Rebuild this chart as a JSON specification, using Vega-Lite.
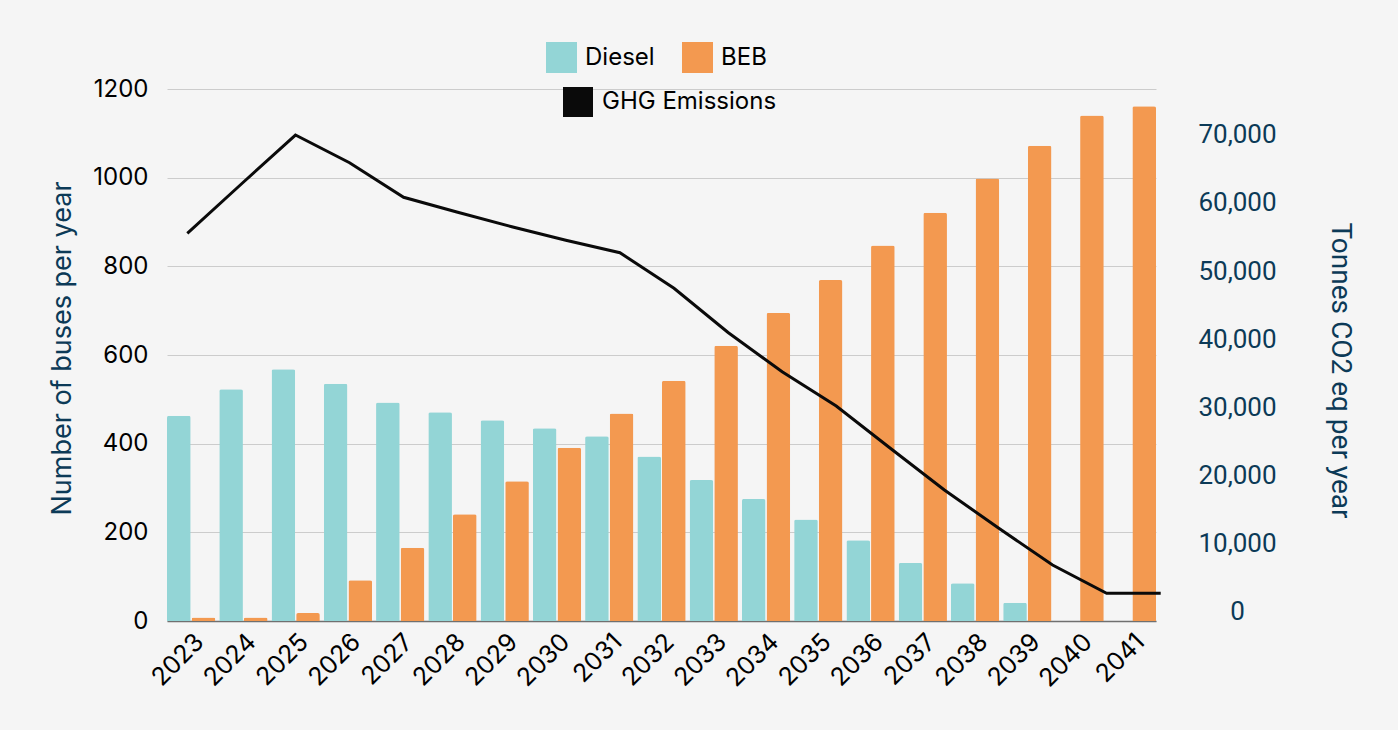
{
  "$schema": "https://vega.github.io/schema/vega-lite/v6.json",
  "width": 989,
  "height": 532,
  "autosize": {"type": "none"},
  "padding": {"left": 167, "top": 89, "right": 242, "bottom": 109},
  "background": "#f5f5f5",
  "config": {"font": "Inter", "view": {"stroke": null}},
  "datasets": {
    "buses": [
      {"year": "2023", "type": "Diesel", "buses": 463}, {"year": "2023", "type": "BEB", "buses": 8},
      {"year": "2024", "type": "Diesel", "buses": 523}, {"year": "2024", "type": "BEB", "buses": 8},
      {"year": "2025", "type": "Diesel", "buses": 568}, {"year": "2025", "type": "BEB", "buses": 18},
      {"year": "2026", "type": "Diesel", "buses": 535}, {"year": "2026", "type": "BEB", "buses": 92},
      {"year": "2027", "type": "Diesel", "buses": 493}, {"year": "2027", "type": "BEB", "buses": 165},
      {"year": "2028", "type": "Diesel", "buses": 471}, {"year": "2028", "type": "BEB", "buses": 241},
      {"year": "2029", "type": "Diesel", "buses": 453}, {"year": "2029", "type": "BEB", "buses": 315},
      {"year": "2030", "type": "Diesel", "buses": 435}, {"year": "2030", "type": "BEB", "buses": 391},
      {"year": "2031", "type": "Diesel", "buses": 417}, {"year": "2031", "type": "BEB", "buses": 468},
      {"year": "2032", "type": "Diesel", "buses": 371}, {"year": "2032", "type": "BEB", "buses": 542},
      {"year": "2033", "type": "Diesel", "buses": 318}, {"year": "2033", "type": "BEB", "buses": 621},
      {"year": "2034", "type": "Diesel", "buses": 275}, {"year": "2034", "type": "BEB", "buses": 695},
      {"year": "2035", "type": "Diesel", "buses": 229}, {"year": "2035", "type": "BEB", "buses": 769},
      {"year": "2036", "type": "Diesel", "buses": 182}, {"year": "2036", "type": "BEB", "buses": 847},
      {"year": "2037", "type": "Diesel", "buses": 131}, {"year": "2037", "type": "BEB", "buses": 921},
      {"year": "2038", "type": "Diesel", "buses": 85}, {"year": "2038", "type": "BEB", "buses": 998},
      {"year": "2039", "type": "Diesel", "buses": 41}, {"year": "2039", "type": "BEB", "buses": 1072},
      {"year": "2040", "type": "Diesel", "buses": 0}, {"year": "2040", "type": "BEB", "buses": 1140},
      {"year": "2041", "type": "Diesel", "buses": 0}, {"year": "2041", "type": "BEB", "buses": 1161}
    ],
    "ghg": [
      {"year": 2023, "ghg": 55540}, {"year": 2024, "ghg": 62770}, {"year": 2025, "ghg": 69950},
      {"year": 2026, "ghg": 65890}, {"year": 2027, "ghg": 60820}, {"year": 2028, "ghg": 58620},
      {"year": 2029, "ghg": 56500}, {"year": 2030, "ghg": 54510}, {"year": 2031, "ghg": 52690},
      {"year": 2032, "ghg": 47470}, {"year": 2033, "ghg": 40990}, {"year": 2034, "ghg": 35240},
      {"year": 2035, "ghg": 30210}, {"year": 2036, "ghg": 24010}, {"year": 2037, "ghg": 17890},
      {"year": 2038, "ghg": 12320}, {"year": 2039, "ghg": 6890}, {"year": 2040, "ghg": 2740},
      {"year": 2041, "ghg": 2740}
    ]
  },
  "layer": [
    {
      "data": {"name": "buses"},
      "mark": {"type": "bar", "cornerRadiusTopLeft": 2, "cornerRadiusTopRight": 2},
      "encoding": {
        "x": {
          "field": "year", "type": "nominal",
          "scale": {"paddingInner": 0.076, "paddingOuter": 0},
          "axis": {
            "title": null, "labelAngle": -45, "labelFontSize": 25, "labelColor": "#000000",
            "labelFont": "Inter", "ticks": false, "grid": false, "domain": true,
            "domainColor": "#707070", "domainWidth": 1.5, "labelPadding": 8, "labelOverlap": false
          }
        },
        "xOffset": {"field": "type", "sort": ["Diesel", "BEB"], "scale": {"paddingInner": 0.04}},
        "y": {
          "field": "buses", "type": "quantitative",
          "scale": {"domain": [0, 1200], "nice": false},
          "axis": {
            "title": "Number of buses per year", "values": [0, 200, 400, 600, 800, 1000, 1200],
            "labelExpr": "format(datum.value, 'd')",
            "grid": true, "gridColor": "#cccccc", "gridWidth": 1, "ticks": false, "domain": false,
            "labelFontSize": 24, "labelColor": "#000000", "labelPadding": 19, "labelFont": "Inter",
            "titleFont": "Inter", "titleFontSize": 27, "titleFontWeight": "normal", "titleColor": "#0c3a57",
            "titleX": -105, "titleY": 259, "titleBaseline": "middle", "titleAngle": -90
          }
        },
        "color": {
          "field": "type", "type": "nominal",
          "scale": {"domain": ["Diesel", "BEB"], "range": ["#93d5d6", "#f39950"]},
          "legend": {
            "title": null, "orient": "none", "legendX": 379, "legendY": -47, "direction": "horizontal",
            "symbolType": "square", "symbolSize": 961, "symbolStrokeWidth": 0, "labelFontSize": 24,
            "labelFont": "Inter", "labelColor": "#000000", "labelOffset": 8, "columnPadding": 27,
            "labelLimit": 400
          }
        }
      }
    },
    {
      "data": {"name": "ghg"},
      "mark": {"type": "line", "strokeWidth": 3},
      "encoding": {
        "x": {
          "field": "year", "type": "quantitative",
          "scale": {"domain": [2022.6246, 2040.9131], "nice": false, "zero": false},
          "axis": null
        },
        "y": {
          "field": "ghg", "type": "quantitative",
          "scale": {"domain": [-1320, 76700], "nice": false, "zero": false},
          "axis": {
            "orient": "right", "title": "Tonnes CO2 eq per year",
            "values": [0, 10000, 20000, 30000, 40000, 50000, 60000, 70000],
            "labelExpr": "format(datum.value, ',')",
            "grid": false, "ticks": false, "domain": false, "labelOverlap": false,
            "labelFont": "Roboto", "labelFontSize": 26, "labelColor": "#0c3a57",
            "labelAlign": "center", "labelPadding": 81,
            "titleFont": "Roboto", "titleFontSize": 28, "titleFontWeight": "normal", "titleColor": "#0c3a57",
            "titleX": 183, "titleY": 281, "titleBaseline": "middle", "titleAngle": 90
          }
        },
        "color": {
          "datum": "GHG Emissions",
          "scale": {"range": ["#0a0a0a"]},
          "legend": {
            "title": null, "orient": "none", "legendX": 396, "legendY": -2, "direction": "horizontal",
            "symbolType": "square", "symbolSize": 900, "symbolFillColor": "#0a0a0a", "symbolStrokeColor": "#0a0a0a",
            "symbolStrokeWidth": 0, "labelFontSize": 24, "labelFont": "Inter", "labelColor": "#000000",
            "labelOffset": 9, "labelLimit": 400
          }
        }
      }
    }
  ],
  "resolve": {"scale": {"x": "independent", "y": "independent", "color": "independent"}}
}
